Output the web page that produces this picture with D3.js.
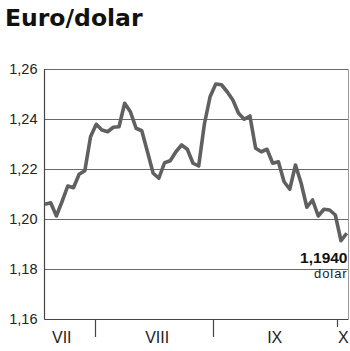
<!DOCTYPE html>
<html>
<head>
<meta charset="utf-8">
<script src="https://cdn.jsdelivr.net/npm/d3@7"></script>
<style>
  html, body { margin: 0; padding: 0; background: #fff; }
  svg { display: block; }
</style>
</head>
<body>
<div id="chart"></div>
<script>
// Euro/dollar rate, business days mid-July to early October
const rates = [
  1.2059, 1.2065, 1.2012, 1.2070, 1.2132, 1.2125, 1.2179, 1.2193, 1.2329, 1.2379,
  1.2356, 1.2349, 1.2367, 1.2369, 1.2463, 1.2429, 1.2363, 1.2353, 1.2269, 1.2183,
  1.2163, 1.2225, 1.2233, 1.2269, 1.2296, 1.2279, 1.2223, 1.2212, 1.2380, 1.2489,
  1.2540, 1.2537, 1.2509, 1.2476, 1.2423, 1.2399, 1.2412, 1.2283, 1.2269, 1.2279,
  1.2223, 1.2229, 1.2149, 1.2119, 1.2216, 1.2143, 1.2047, 1.2076, 1.2012, 1.2039,
  1.2036, 1.2016, 1.1913, 1.1943
];
const yTicks = [1.16, 1.18, 1.20, 1.22, 1.24, 1.26];
// month boundaries and label centres, in day index units
const monthBounds = [8.8, 29.5, 51.35];
const monthNames = ['VII', 'VIII', 'IX', 'X'];
const monthLabelAt = [2.95, 19.7, 40.35, 52.4];
const lastLabel = '1,1940';
const lastUnit = 'dolar';

const W = 350, H = 351;
const plotL = 44.5, plotR = 348.5, plotT = 69, plotB = 319;

const svg = d3.select('#chart').append('svg')
  .attr('width', W)
  .attr('height', H);

const x = d3.scaleLinear().domain([0, rates.length - 1]).range([45, 346.7]);
const y = d3.scaleLinear().domain([1.16, 1.26]).range([plotB, plotT]);
const fmt = v => d3.format('.2f')(v).replace('.', ',');

// title
svg.append('text')
  .attr('x', 5).attr('y', 26)
  .attr('font-family', 'DejaVu Sans, sans-serif')
  .attr('font-weight', 'bold')
  .attr('font-size', 23.5)
  .attr('fill', '#111')
  .text('Euro/dolar');

// gridlines
svg.append('g')
  .selectAll('line')
  .data(yTicks.slice(1))
  .enter().append('line')
  .attr('x1', plotL).attr('x2', plotR)
  .attr('y1', d => Math.round(y(d)) + 0.5).attr('y2', d => Math.round(y(d)) + 0.5)
  .attr('stroke', '#6a6a6a')
  .attr('stroke-width', 1);

// y labels
svg.append('g')
  .selectAll('text')
  .data(yTicks)
  .enter().append('text')
  .attr('x', 37.5)
  .attr('y', d => y(d) + 5)
  .attr('text-anchor', 'end')
  .attr('font-family', 'Liberation Sans, Arial, sans-serif')
  .attr('font-size', 14.5)
  .attr('fill', '#222')
  .text(fmt);

// frame: left axis, bottom axis, right edge
svg.append('line')
  .attr('x1', plotL).attr('x2', plotL).attr('y1', plotT).attr('y2', plotB + 0.5)
  .attr('stroke', '#444').attr('stroke-width', 1.2);
svg.append('line')
  .attr('x1', plotL).attr('x2', plotR).attr('y1', plotB + 0.5).attr('y2', plotB + 0.5)
  .attr('stroke', '#444').attr('stroke-width', 1.2);
svg.append('line')
  .attr('x1', plotR).attr('x2', plotR).attr('y1', plotT).attr('y2', plotB)
  .attr('stroke', '#999').attr('stroke-width', 1);

// month separators
svg.append('g')
  .selectAll('line')
  .data(monthBounds)
  .enter().append('line')
  .attr('x1', d => Math.round(x(d)) + 0.5).attr('x2', d => Math.round(x(d)) + 0.5)
  .attr('y1', plotB)
  .attr('y2', (d, i) => i === monthBounds.length - 1 ? 327 : 337)
  .attr('stroke', '#444')
  .attr('stroke-width', 1.2);

// month labels
svg.append('g')
  .selectAll('text')
  .data(monthNames)
  .enter().append('text')
  .attr('x', (d, i) => x(monthLabelAt[i]))
  .attr('y', 343)
  .attr('text-anchor', 'middle')
  .attr('font-family', 'Liberation Sans, Arial, sans-serif')
  .attr('font-size', 16)
  .attr('fill', '#222')
  .text(d => d);

// rate line
const line = d3.line()
  .x((d, i) => x(i))
  .y(d => y(d));

svg.append('path')
  .datum(rates)
  .attr('d', line)
  .attr('fill', 'none')
  .attr('stroke', '#606060')
  .attr('stroke-width', 3.6)
  .attr('stroke-linejoin', 'round')
  .attr('stroke-linecap', 'butt');

// last value label
svg.append('text')
  .attr('x', 347.5).attr('y', 263)
  .attr('text-anchor', 'end')
  .attr('font-family', 'Liberation Sans, Arial, sans-serif')
  .attr('font-weight', 'bold')
  .attr('font-size', 15.5)
  .attr('fill', '#111')
  .text(lastLabel);
svg.append('text')
  .attr('x', 347.5).attr('y', 277.5)
  .attr('text-anchor', 'end')
  .attr('font-family', 'Liberation Sans, Arial, sans-serif')
  .attr('font-size', 13)
  .attr('letter-spacing', 0.9)
  .attr('fill', '#222')
  .text(lastUnit);
</script>
</body>
</html>
